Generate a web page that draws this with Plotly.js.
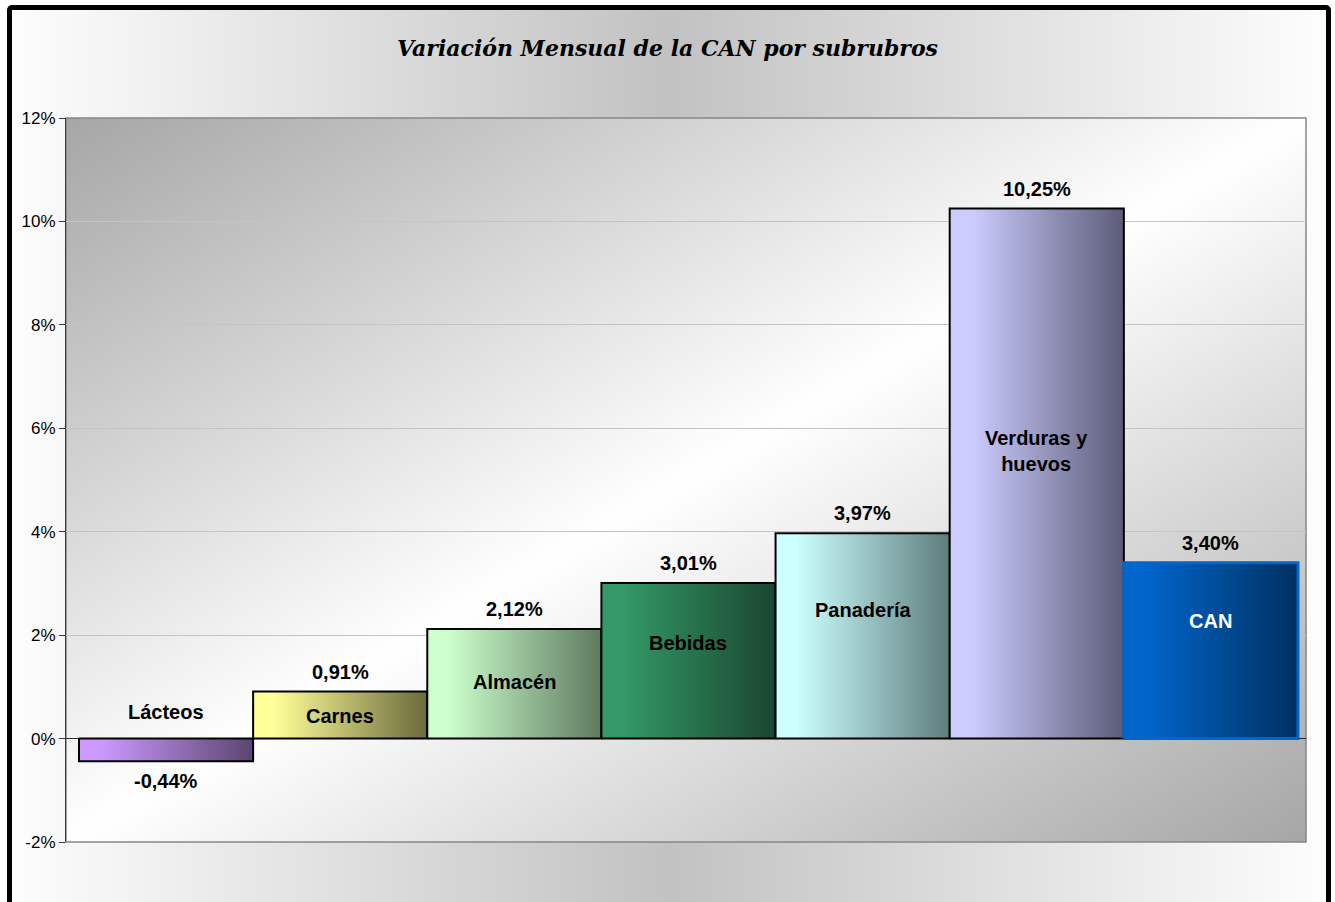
<!DOCTYPE html>
<html>
<head>
<meta charset="utf-8">
<script src="https://cdn.plot.ly/plotly-3.0.1.min.js"></script>
<style>
  html, body { margin: 0; padding: 0; background: #ffffff; overflow: hidden; }
  #wrap { position: relative; width: 1335px; height: 902px; overflow: hidden; background: #ffffff; }
  #frame { position: absolute; left: 7px; top: 5px; width: 1314px; height: 940px;
           border: 5px solid #000; border-radius: 5px;
           background: linear-gradient(to right, #fdfdfd 0%, #c2c2c2 50%, #fdfdfd 100%); }
  #plotbg { position: absolute; left: 66px; top: 118px; width: 1240px; height: 724px;
            background: linear-gradient(to bottom right, #a6a6a6 0%, #ffffff 50%, #a6a6a6 100%); }
  #chart { position: absolute; left: 0; top: 0; width: 1335px; height: 902px; }
</style>
</head>
<body>
<div id="wrap">
  <div id="frame"></div>
  <div id="plotbg"></div>
  <div id="chart"></div>
</div>
<script>
// ---- data ----
const categories = ['Lácteos', 'Carnes', 'Almacén', 'Bebidas', 'Panadería', 'Verduras y<br>huevos', 'CAN'];
const values = [-0.44, 0.91, 2.12, 3.01, 3.97, 10.25, 3.40];
const lightColors = ['#cc99ff', '#ffff99', '#ccffcc', '#339966', '#ccffff', '#ccccff', '#0066cc'];
const darkColors  = ['#5a4670', '#6b6a3c', '#5e7a60', '#1a4630', '#5e7d7d', '#5c5c78', '#003062'];
const yTicks = [-2, 0, 2, 4, 6, 8, 10, 12];

// ---- layout helpers ----
const nameLabelY = [0.51, 0.44, 1.09, 1.85, 2.49, 5.57, 2.27];
const fmt = v => v.toFixed(2).replace('.', ',') + '%';

const traces = values.map((v, i) => {
  const x0 = i - 0.5, x1 = i + 0.5;
  const isCAN = categories[i] === 'CAN';
  return {
    type: 'scatter', mode: 'lines',
    x: [x0, x1, x1, x0, x0],
    y: [0, 0, v, v, 0],
    fill: 'toself',
    fillgradient: {
      type: 'horizontal',
      colorscale: [[0, lightColors[i]], [0.12, lightColors[i]], [1, darkColors[i]]]
    },
    line: { color: isCAN ? '#0066cc' : '#000000', width: isCAN ? 3 : 2 },
    hoverinfo: 'skip', showlegend: false
  };
});

const labelFont = { family: 'Arial, "Liberation Sans", sans-serif', size: 20, color: '#000' };
const annotations = [];
values.forEach((v, i) => {
  annotations.push({
    x: i, y: v, xref: 'x', yref: 'y', text: '<b>' + fmt(v) + '</b>',
    showarrow: false, yanchor: 'middle', yshift: v >= 0 ? 20 : -20,
    font: labelFont
  });
  annotations.push({
    x: i, y: nameLabelY[i], xref: 'x', yref: 'y', text: '<b>' + categories[i] + '</b>',
    showarrow: false, yanchor: 'middle',
    font: Object.assign({}, labelFont, { color: categories[i] === 'CAN' ? '#ffffff' : '#000000' })
  });
});

const layout = {
  width: 1335, height: 902,
  margin: { l: 66, r: 29, t: 118, b: 60, pad: 0 },
  paper_bgcolor: 'rgba(0,0,0,0)',
  plot_bgcolor: 'rgba(0,0,0,0)',
  title: {
    text: '<b><i>Variación Mensual de la CAN por subrubros</i></b>',
    x: 0.5, xref: 'container', xanchor: 'center',
    y: 1 - 48 / 902, yref: 'container', yanchor: 'middle',
    font: { family: '"DejaVu Serif", serif', size: 22, color: '#000' }
  },
  xaxis: {
    range: [-0.5746, 6.546], showgrid: false, zeroline: false,
    showticklabels: false, ticks: '', showline: false, fixedrange: true
  },
  yaxis: {
    range: [-2, 12], tickvals: yTicks, ticktext: yTicks.map(t => t + '%'),
    showgrid: true, gridcolor: '#c4c4c4', gridwidth: 1,
    zeroline: true, zerolinecolor: '#2a2a2a', zerolinewidth: 1,
    showline: true, linecolor: '#3a3a3a', linewidth: 1,
    ticks: 'outside', ticklen: 6, tickcolor: '#3a3a3a',
    tickfont: { family: 'Arial, "Liberation Sans", sans-serif', size: 17, color: '#000' },
    fixedrange: true
  },
  shapes: [{
    type: 'rect', xref: 'paper', yref: 'paper', x0: 0, x1: 1, y0: 0, y1: 1,
    line: { color: '#868686', width: 1.5 }, layer: 'below'
  }],
  annotations: annotations
};

Plotly.newPlot('chart', traces, layout, { displayModeBar: false, staticPlot: true });
</script>
</body>
</html>
